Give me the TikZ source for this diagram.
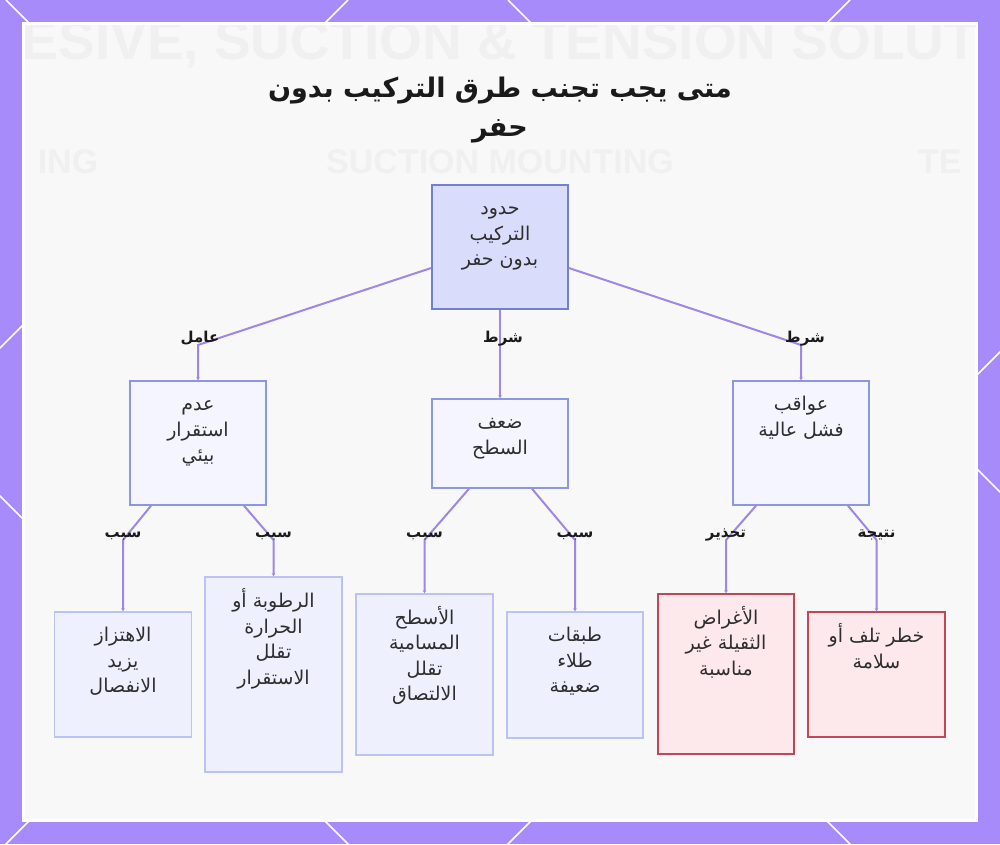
\documentclass[tikz,border=0pt]{standalone}
\usepackage{fontspec}
\setmainfont{DejaVu Sans}
\newfontfamily\arabicfont[Script=Arabic]{DejaVu Sans}
\newfontfamily\bgfont{Liberation Sans}
\TeXXeTstate=1
\usetikzlibrary{arrows.meta}
\definecolor{bgpurple}{HTML}{A78BFA}
\definecolor{panelgray}{HTML}{F8F8F8}
\definecolor{fadetext}{HTML}{F0F0F0}
\definecolor{edgecol}{HTML}{A086E6}
\definecolor{rootfill}{HTML}{DADCFC}
\definecolor{rootdraw}{HTML}{7380D2}
\definecolor{midfill}{HTML}{F4F5FE}
\definecolor{middraw}{HTML}{8A97E3}
\definecolor{leaffill}{HTML}{EEF1FD}
\definecolor{leafdraw}{HTML}{BAC3F2}
\definecolor{redfill}{HTML}{FDE9EC}
\definecolor{reddraw}{HTML}{C44553}
\definecolor{boxtext}{HTML}{2E2E2E}
\definecolor{lbltext}{HTML}{1A1A1A}
\newcommand{\rl}[1]{\beginR #1\endR}
\newcommand{\bx}[3]{\parbox[c][#2][t]{#1}{\centering\arabicfont\fontsize{19}{25.5}\selectfont\color{boxtext}\vspace*{12pt}\strut #3}}
\tikzset{
  rootbox/.style={draw=rootdraw, fill=rootfill, line width=1.6pt, inner sep=0pt},
  midbox/.style={draw=middraw, fill=midfill, line width=1.5pt, inner sep=0pt},
  leafbox/.style={draw=leafdraw, fill=leaffill, line width=1.5pt, inner sep=0pt},
  redbox/.style={draw=reddraw, fill=redfill, line width=1.5pt, inner sep=0pt},
  edge/.style={draw=edgecol, line width=2pt, -{Stealth[length=3pt,width=3.5pt]}},
  lbl/.style={font=\arabicfont\bfseries\fontsize{15}{18}\selectfont, text=lbltext, inner sep=0pt, anchor=base, yshift=3pt},
  fade/.style={text=fadetext, inner sep=0pt, font=\bgfont\bfseries}
}
\begin{document}
\begin{tikzpicture}[x=1pt,y=-1pt]
\useasboundingbox (0,0) rectangle (1000,844);
\fill[bgpurple] (0,0) rectangle (1000,844);
\begin{scope}
  \clip (0,0) rectangle (1000,844);
  \foreach \c in {-496,6,508} \draw[white, line width=1.5pt] (\c,0) -- (\c+844,844);
  \foreach \d in {348,850,1352} \draw[white, line width=1.5pt] (\d,0) -- (\d-844,844);
\end{scope}
\filldraw[fill=panelgray, draw=white, line width=3pt] (23.5,23.5) rectangle (976.5,820);
\begin{scope}
  \clip (25,25) rectangle (975,818.5);
  \node[fade, font=\bgfont\bfseries\fontsize{55}{58}\selectfont] (f1) at (500,45) {ESIVE, SUCTION \& TENSION SOLUT};
  \node[fade, font=\bgfont\bfseries\fontsize{34}{38}\selectfont] (f2) at (68,162) {ING};
  \node[fade, font=\bgfont\bfseries\fontsize{34}{38}\selectfont] (f3) at (500,162) {SUCTION MOUNTING};
  \node[fade, font=\bgfont\bfseries\fontsize{34}{38}\selectfont, anchor=west] (f4) at (918,162) {TE};
\end{scope}
% title
\node[font=\arabicfont\bfseries\fontsize{27}{39}\selectfont, align=center, text=lbltext] (title) at (500,110) {\rl{متى يجب تجنب طرق التركيب بدون}\\\rl{حفر}};
% boxes
\node[rootbox] (root) at (500,247) {\bx{136pt}{124pt}{\rl{حدود}\\\rl{التركيب}\\\rl{بدون حفر}}};
\node[midbox] (nA) at (198,443) {\bx{136pt}{124pt}{\rl{عدم}\\\rl{استقرار}\\\rl{بيئي}}};
\node[midbox] (nB) at (500,443.5) {\bx{136pt}{89pt}{\rl{ضعف}\\\rl{السطح}}};
\node[midbox] (nC) at (801,443) {\bx{136pt}{124pt}{\rl{عواقب}\\\rl{فشل عالية}}};
\node[leafbox] (lA1) at (123,674.5) {\bx{137pt}{125pt}{\rl{الاهتزاز}\\\rl{يزيد}\\\rl{الانفصال}}};
\node[leafbox] (lA2) at (273.5,674.5) {\bx{137pt}{195pt}{\rl{الرطوبة أو}\\\rl{الحرارة}\\\rl{تقلل}\\\rl{الاستقرار}}};
\node[leafbox] (lB1) at (424.5,674.5) {\bx{137pt}{161pt}{\rl{الأسطح}\\\rl{المسامية}\\\rl{تقلل}\\\rl{الالتصاق}}};
\node[leafbox] (lB2) at (575,675) {\bx{136pt}{126pt}{\rl{طبقات}\\\rl{طلاء}\\\rl{ضعيفة}}};
\node[redbox] (lC1) at (726,674) {\bx{136pt}{160pt}{\rl{الأغراض}\\\rl{الثقيلة غير}\\\rl{مناسبة}}};
\node[redbox] (lC2) at (876.5,674.5) {\bx{137pt}{125pt}{\rl{خطر تلف أو}\\\rl{سلامة}}};
% bend points
\coordinate (kA) at (198,345);
\coordinate (kC) at (801,345);
\coordinate (kA1) at (123,540);
\coordinate (kA2) at (273.5,540);
\coordinate (kB1) at (424.5,540);
\coordinate (kB2) at (575,540);
\coordinate (kC1) at (726,540);
\coordinate (kC2) at (876.5,540);
% edges
\draw[edge] ([yshift=-21pt]root.west) -- (kA) node[lbl, xshift=2pt] (eA) {\rl{عامل}} -- (nA.north);
\draw[edge] (root.south) -- node[lbl, pos=0.4, xshift=3pt] (eB) {\rl{شرط}} (nB.north);
\draw[edge] ([yshift=-21pt]root.east) -- (kC) node[lbl, xshift=4pt] (eC) {\rl{شرط}} -- (nC.north);
\draw[edge] ([xshift=-47pt]nA.south) -- (kA1) node[lbl] (eA1) {\rl{سبب}} -- (lA1.north);
\draw[edge] ([xshift=46pt]nA.south) -- (kA2) node[lbl] (eA2) {\rl{سبب}} -- (lA2.north);
\draw[edge] ([xshift=-31pt]nB.south) -- (kB1) node[lbl] (eB1) {\rl{سبب}} -- (lB1.north);
\draw[edge] ([xshift=32pt]nB.south) -- (kB2) node[lbl] (eB2) {\rl{سبب}} -- (lB2.north);
\draw[edge] ([xshift=-45pt]nC.south) -- (kC1) node[lbl] (eC1) {\rl{تحذير}} -- (lC1.north);
\draw[edge] ([xshift=47pt]nC.south) -- (kC2) node[lbl] (eC2) {\rl{نتيجة}} -- (lC2.north);
\end{tikzpicture}
\end{document}
